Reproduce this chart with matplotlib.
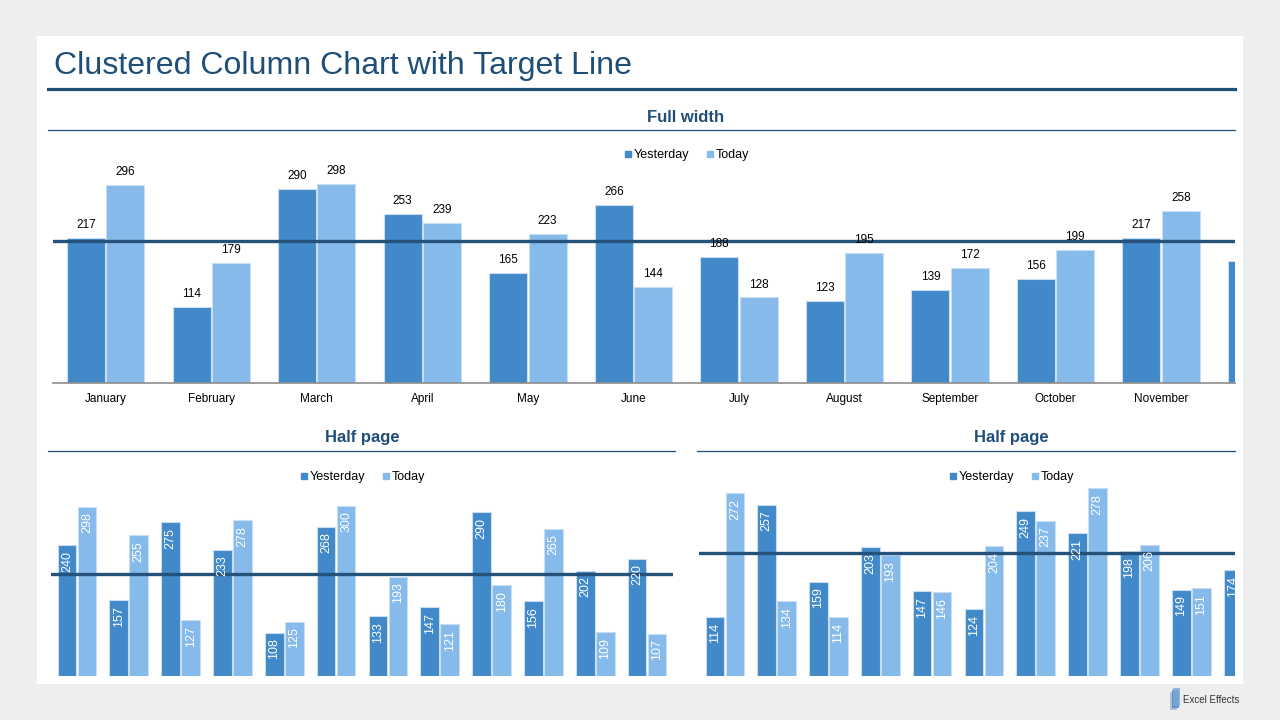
import matplotlib.pyplot as plt
from matplotlib.patches import Rectangle
from matplotlib.lines import Line2D
import numpy as np

plt.rcParams['font.family'] = ['Liberation Sans', 'DejaVu Sans']

# data
months = ['January', 'February', 'March', 'April', 'May', 'June', 'July',
          'August', 'September', 'October', 'November', 'December']
full_yesterday = [217, 114, 290, 253, 165, 266, 188, 123, 139, 156, 217, 183]
full_today = [296, 179, 298, 239, 223, 144, 128, 195, 172, 199, 258, 190]
full_target = 213

left_yesterday = [240, 157, 275, 233, 108, 268, 133, 147, 290, 156, 202, 220]
left_today = [298, 255, 127, 278, 125, 300, 193, 121, 180, 265, 109, 107]
left_target = 197

right_yesterday = [114, 257, 159, 203, 147, 124, 249, 221, 198, 149, 174, 180]
right_today = [272, 134, 114, 193, 146, 204, 237, 278, 206, 151, 190, 200]
right_target = 196

c_yest = '#4189C8'
c_today = '#86BAEB'
c_edge = '#C9DEF2'
c_target = '#24527A'
c_head = '#1F4E79'

W, H = 1280, 720
fig = plt.figure(figsize=(W / 100, H / 100), dpi=100)
fig.patch.set_facecolor('#EEEEEE')


def px_axes(x0, y0, x1, y1, **kw):
    return fig.add_axes([x0 / W, 1 - y1 / H, (x1 - x0) / W, (y1 - y0) / H], **kw)


def fx(x):
    return x / W


def fy(y):
    return 1 - y / H


# white panel
fig.patches.append(Rectangle((fx(37), fy(684)), (1243 - 37) / W, (684 - 36) / H,
                             transform=fig.transFigure, facecolor='white',
                             edgecolor='none', zorder=-10))

# title
fig.text(fx(54), fy(66), 'Clustered Column Chart with Target Line', fontsize=23.1,
         color=c_head, va='center', ha='left')
fig.lines.append(Line2D([fx(48), fx(1235)], [fy(89), fy(89)], transform=fig.transFigure,
                        color=c_head, lw=2.3))


def heading(text, xc, x0, x1, y_text, y_line):
    fig.text(fx(xc), fy(y_text), text, fontsize=12, fontweight='bold', color=c_head,
             ha='center', va='center')
    fig.lines.append(Line2D([fx(x0), fx(x1)], [fy(y_line), fy(y_line)],
                            transform=fig.transFigure, color=c_head, lw=0.9))


def legend(xc, y):
    handles = [Line2D([], [], marker='s', ls='none', color=c_yest, markersize=5),
               Line2D([], [], marker='s', ls='none', color=c_today, markersize=5)]
    fig.legend(handles, ['Yesterday', 'Today'], loc='center', ncol=2,
               bbox_to_anchor=(fx(xc), fy(y)), frameon=False, fontsize=9,
               handletextpad=0.1, columnspacing=1.2, handlelength=0.8)


heading('Full width', 686, 48, 1235, 117, 130)
heading('Half page', 362, 48, 675, 438, 451)
heading('Half page', 1011, 697, 1235, 438, 451)
legend(686, 155)
legend(362, 477)
legend(1011, 477)


def draw_chart(ax, yest, today, target, width, off, rotated):
    x = np.arange(len(yest))
    b1 = ax.bar(x - off, yest, width, color=c_yest, edgecolor=c_edge, linewidth=0.8, zorder=2)
    b2 = ax.bar(x + off, today, width, color=c_today, edgecolor=c_edge, linewidth=0.8, zorder=2)
    ax.axhline(target, color=c_target, lw=2.4, zorder=3)
    for bars in (b1, b2):
        for r in bars:
            v = r.get_height()
            cx = r.get_x() + r.get_width() / 2
            if rotated:
                ax.annotate(str(int(v)), (cx, v), xytext=(0, -4), textcoords='offset points',
                            ha='center', va='top', rotation=90, color='white',
                            fontsize=9, zorder=4, annotation_clip=True)
            else:
                ax.annotate(str(int(v)), (cx, v), xytext=(0, 5), textcoords='offset points',
                            ha='center', va='bottom', color='black', fontsize=8.5,
                            zorder=4, annotation_clip=True)
    ax.set_yticks([])
    for s in ['top', 'left', 'right']:
        ax.spines[s].set_visible(False)
    ax.set_facecolor('none')


# full width chart
ax1 = px_axes(53, 160, 1235, 383)
draw_chart(ax1, full_yesterday, full_today, full_target, 0.36, 0.186, False)
ax1.set_xticks(np.arange(len(months)))
ax1.set_xticklabels(months, fontsize=8.5)
ax1.set_xlim(-0.5, 10.70)
ax1.set_ylim(0, (383 - 160) / 0.668)
ax1.tick_params(axis='x', length=0, pad=7)
ax1.spines['bottom'].set_color('#8C8C8C')
ax1.spines['bottom'].set_linewidth(1.2)

# half page left
ax2 = px_axes(51, 490, 673, 676)
draw_chart(ax2, left_yesterday, left_today, left_target, 0.36, 0.193, True)
ax2.set_xticks([])
ax2.set_xlim(-0.5, 11.5)
ax2.set_ylim(43, 43 + (676 - 490) / 0.663)
ax2.spines['bottom'].set_visible(False)

# half page right
ax3 = px_axes(699, 470, 1235, 676)
draw_chart(ax3, right_yesterday, right_today, right_target, 0.36, 0.193, True)
ax3.set_xticks([])
ax3.set_xlim(-0.5, 9.845)
ax3.set_ylim(39, 39 + (676 - 470) / 0.785)
ax3.spines['bottom'].set_visible(False)

# logo
for i, (dx, col) in enumerate([(0, '#9FB9D6'), (3, '#4A86C5'), (6, '#7FA7D3')]):
    fig.patches.append(Rectangle((fx(1170 + dx * 0.5), fy(710 - i * 2)), 7 / W, 18 / H,
                                 transform=fig.transFigure, facecolor=col,
                                 edgecolor='none', alpha=0.8))
fig.text(fx(1183), fy(700), 'Excel Effects', fontsize=7, color='#333333',
         ha='left', va='center')

fig.savefig('out.png', dpi=100, facecolor=fig.get_facecolor())
